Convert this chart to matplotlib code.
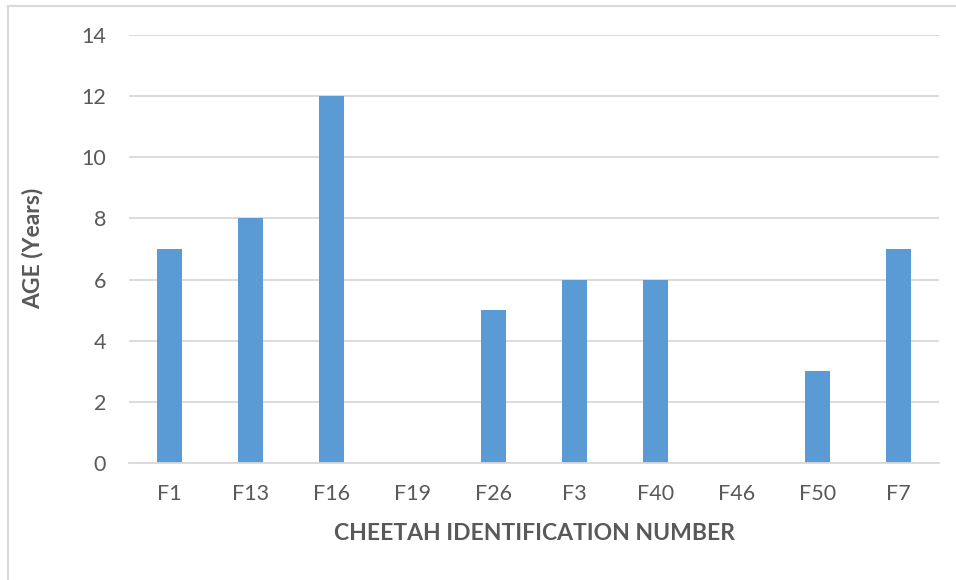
import matplotlib
matplotlib.use("Agg")
import matplotlib.pyplot as plt
from matplotlib.lines import Line2D

cheetah_ids = ["F1", "F13", "F16", "F19", "F26", "F3", "F40", "F46", "F50", "F7"]
age_years = [7, 8, 12, 0, 5, 6, 6, 0, 3, 7]
y_ticks = [0, 2, 4, 6, 8, 10, 12, 14]

plt.rcParams["font.family"] = ["Lato", "DejaVu Sans"]
text_color = "#595959"
grid_color = "#D9D9D9"
bar_color = "#5B9BD5"

W, H = 956, 580
fig = plt.figure(figsize=(W / 100, H / 100), dpi=100)
ax = fig.add_axes([129 / W, 1 - 463 / H, 810 / W, 428 / H])

x = range(len(cheetah_ids))
ax.bar(x, age_years, width=0.32, color=bar_color, zorder=3)

ax.set_xlim(-0.5, len(cheetah_ids) - 0.5)
ax.set_ylim(0, 14)
ax.set_yticks(y_ticks)
ax.set_yticklabels([str(t) for t in y_ticks])
ax.set_xticks(list(x))
ax.set_xticklabels(cheetah_ids)

ax.yaxis.grid(True, color=grid_color, linewidth=1.3, zorder=0)
for side in ("top", "right", "left"):
    ax.spines[side].set_visible(False)
ax.spines["bottom"].set_color(grid_color)
ax.spines["bottom"].set_linewidth(1.3)
ax.spines["bottom"].set_zorder(4)

ax.tick_params(axis="both", length=0, labelsize=15.5, labelcolor=text_color)
ax.tick_params(axis="y", pad=16.5)
ax.tick_params(axis="x", pad=15)

fig.text(534 / W, 1 - 533 / H, "CHEETAH IDENTIFICATION NUMBER", fontsize=16.5,
         fontweight="bold", color=text_color, ha="center", va="center")
fig.text(33 / W, 1 - 248 / H, "AGE (Years)", fontsize=16.5, fontweight="bold",
         color=text_color, ha="center", va="center", rotation=90)

# chart frame edges
fig.add_artist(Line2D([8 / W, 1], [1 - 6 / H, 1 - 6 / H],
                      transform=fig.transFigure, color=grid_color, linewidth=1.5))
fig.add_artist(Line2D([8 / W, 8 / W], [0, 1 - 6 / H],
                      transform=fig.transFigure, color=grid_color, linewidth=1.5))

fig.savefig("out.png", dpi=100, facecolor="white")
